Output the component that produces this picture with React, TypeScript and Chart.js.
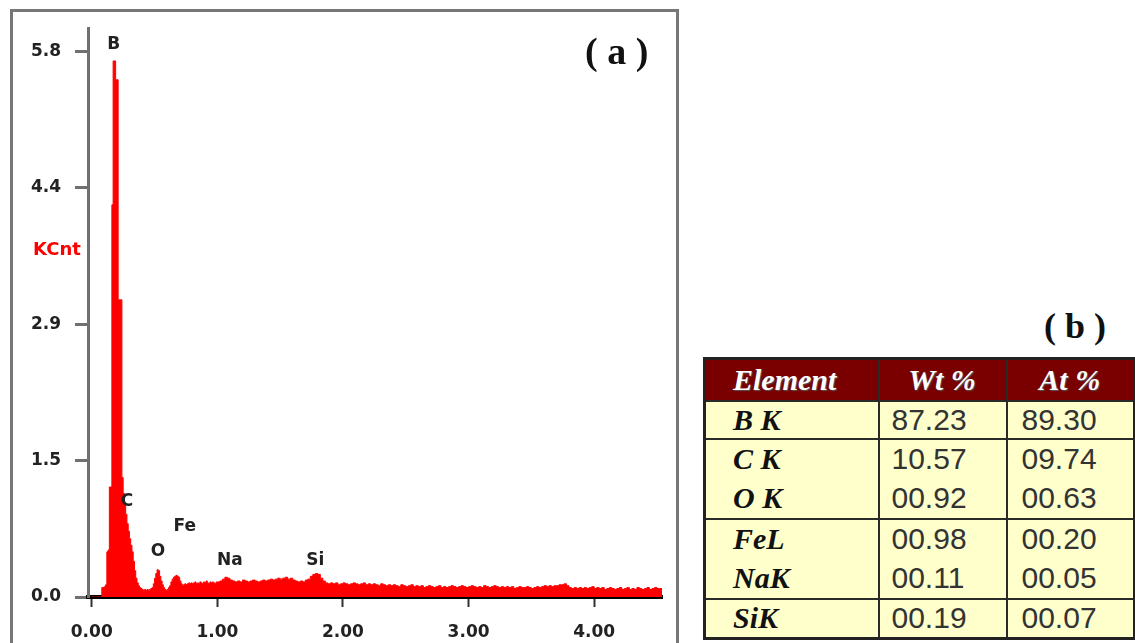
import React, { useEffect, useRef } from 'react';
import { Chart, registerables } from 'chart.js';

Chart.register(...registerables);

// ---------- DATA ----------
// EDS spectrum counts (KCnt). Low-energy part: 0.01 keV channels starting at 0.00 keV
const LOW_START = 0.0;
const LOW_STEP = 0.01;
const lowCounts = [
  0, 0, 0, 0, 0, 0, 0, 0,
  0.1, 0.1, 0.11, 0.13,
  0.48, 0.5, 1.17, 1.17,
  4.17, 5.7, 5.7, 5.5,
  5.5, 3.16, 3.16, 3.16,
  1.27, 1.1, 0.98, 0.88,
  0.78, 0.7, 0.62, 0.55,
  0.48, 0.38, 0.28, 0.2,
  0.15, 0.12, 0.1, 0.09,
  0.08, 0.07, 0.08, 0.07,
  0.08, 0.07, 0.08, 0.09,
  0.1, 0.14, 0.2, 0.25,
  0.29, 0.28, 0.22, 0.17,
  0.13, 0.1, 0.08, 0.07,
  0.08, 0.1, 0.12, 0.16,
  0.19, 0.21, 0.22, 0.23,
  0.22, 0.21, 0.17, 0.14,
  0.12, 0.13, 0.14, 0.13,
  0.14, 0.15, 0.14, 0.15,
  0.14, 0.15, 0.16, 0.14,
  0.15, 0.14, 0.16, 0.15,
  0.14, 0.16, 0.15, 0.17,
  0.15, 0.14, 0.16, 0.15,
  0.16, 0.15, 0.14, 0.16,
];
// High-energy part: 0.02 keV channels starting at 1.00 keV
const HIGH_START = 1.0;
const HIGH_STEP = 0.02;
const highCounts = [
  0.16, 0.17, 0.19, 0.21, 0.2, 0.18,
  0.17, 0.16, 0.17, 0.16, 0.18, 0.17,
  0.16, 0.17, 0.18, 0.17, 0.16, 0.17,
  0.18, 0.17, 0.18, 0.19, 0.18, 0.19,
  0.2, 0.19, 0.2, 0.21, 0.19, 0.2,
  0.18, 0.17, 0.16, 0.17, 0.16, 0.18,
  0.19, 0.22, 0.24, 0.25, 0.24, 0.2, 0.17, 0.15,
  0.14, 0.15, 0.14, 0.15, 0.13, 0.14,
  0.15, 0.14, 0.13, 0.14, 0.15, 0.14,
  0.13, 0.14, 0.15, 0.13, 0.14, 0.13,
  0.14, 0.13, 0.12, 0.14, 0.13, 0.12,
  0.13, 0.12, 0.13, 0.12, 0.11, 0.13,
  0.12, 0.11, 0.12, 0.13, 0.11, 0.12,
  0.11, 0.12, 0.1, 0.11, 0.12, 0.11,
  0.1, 0.11, 0.12, 0.1, 0.11, 0.1,
  0.11, 0.12, 0.11, 0.1, 0.11, 0.12,
  0.11, 0.1, 0.11, 0.12, 0.11, 0.1,
  0.11, 0.1, 0.12, 0.11, 0.1, 0.11,
  0.12, 0.11, 0.1, 0.11, 0.1, 0.11,
  0.1, 0.11, 0.09, 0.1, 0.11, 0.1,
  0.1, 0.11, 0.1, 0.09, 0.1, 0.11,
  0.1, 0.11, 0.12, 0.11, 0.12, 0.11,
  0.12, 0.12, 0.13, 0.13, 0.14, 0.12,
  0.1, 0.09, 0.1, 0.09, 0.1, 0.09,
  0.1, 0.09, 0.1, 0.11, 0.09, 0.1,
  0.09, 0.1, 0.08, 0.09, 0.1, 0.09,
  0.08, 0.09, 0.1, 0.08, 0.09, 0.1,
  0.08, 0.09, 0.08, 0.1, 0.09, 0.08,
  0.09, 0.1, 0.08, 0.09, 0.1, 0.09,
  0.09, 0.09,
];

const xTickValues = [0, 1, 2, 3, 4];
const xTickLabels = ['0.00', '1.00', '2.00', '3.00', '4.00'];
const yTickValues = [0, 1.45, 2.9, 4.35, 5.8];
const yTickLabels = ['0.0', '1.5', '2.9', '4.4', '5.8'];

const peakNames = ['B', 'C', 'O', 'Fe', 'Na', 'Si'];
const peakEnergies = [0.175, 0.28, 0.527, 0.74, 1.1, 1.78];
const peakLabelHeights = [5.87, 1.01, 0.48, 0.745, 0.39, 0.39];

const yAxisUnit = 'KCnt';

const tableHeader = ['Element', 'Wt %', 'At %'];
const tableElements = ['B K', 'C K', 'O K', 'FeL', 'NaK', 'SiK'];
const tableWt = ['87.23', '10.57', '00.92', '00.98', '00.11', '00.19'];
const tableAt = ['89.30', '09.74', '00.63', '00.20', '00.05', '00.07'];
// rows after which a separator line is drawn
const tableSeparatorsAfter = [0, 2, 4];

// ---------- CHART ----------
const peakLabelPlugin = {
  id: 'peakLabels',
  afterDatasetsDraw(chart: any) {
    const { ctx } = chart;
    const xs = chart.scales.x;
    const ys = chart.scales.y;
    ctx.save();
    ctx.font = 'bold 17px "DejaVu Sans"';
    ctx.fillStyle = '#222';
    ctx.textAlign = 'center';
    ctx.textBaseline = 'middle';
    peakNames.forEach((n, i) => {
      ctx.fillText(n, xs.getPixelForValue(peakEnergies[i]), ys.getPixelForValue(peakLabelHeights[i]));
    });
    ctx.fillStyle = '#ff0000';
    ctx.font = 'bold 18px "DejaVu Sans"';
    ctx.fillText(yAxisUnit, 57, 250);
    ctx.restore();
  },
};

function Spectrum() {
  const ref = useRef<HTMLCanvasElement | null>(null);
  useEffect(() => {
    if (!ref.current) return;
    const points = [
      ...lowCounts.map((y, i) => ({ x: LOW_START + i * LOW_STEP, y })),
      ...highCounts.map((y, i) => ({ x: HIGH_START + i * HIGH_STEP, y })),
    ];
    const chart = new Chart(ref.current, {
      type: 'line',
      data: {
        datasets: [
          {
            data: points,
            stepped: true,
            fill: 'origin',
            backgroundColor: '#ff0000',
            borderColor: '#ff0000',
            borderWidth: 1,
            pointRadius: 0,
          },
        ],
      },
      options: {
        animation: false,
        responsive: false,
        devicePixelRatio: 1,
        layout: { padding: { left: 0, top: 28, right: 28, bottom: 0 } },
        plugins: { legend: { display: false }, tooltip: { enabled: false } },
        scales: {
          x: {
            type: 'linear',
            min: -0.03,
            max: 4.54,
            afterBuildTicks: (s: any) => {
              s.ticks = xTickValues.map((v) => ({ value: v }));
            },
            afterFit: (s: any) => {
              s.height = 46;
            },
            ticks: {
              autoSkip: false,
              maxRotation: 0,
              padding: 15,
              color: '#222',
              font: { family: '"DejaVu Sans"', weight: 'bold', size: 17 },
              callback: (_v: any, i: number) => xTickLabels[i],
            },
            grid: {
              drawOnChartArea: false,
              drawTicks: true,
              tickLength: 10,
              tickWidth: 2,
              tickColor: '#333',
            },
            border: { display: true, color: '#000', width: 4 },
          },
          y: {
            type: 'linear',
            min: 0,
            max: 6.05,
            afterBuildTicks: (s: any) => {
              s.ticks = yTickValues.map((v) => ({ value: v }));
            },
            afterFit: (s: any) => {
              s.width = 88;
            },
            ticks: {
              autoSkip: false,
              padding: 14,
              color: '#222',
              font: { family: '"DejaVu Sans"', weight: 'bold', size: 17 },
              callback: (_v: any, i: number) => yTickLabels[i],
            },
            grid: {
              drawOnChartArea: false,
              drawTicks: true,
              tickLength: 13,
              tickWidth: 3,
              tickColor: '#707070',
            },
            border: { display: true, color: '#707070', width: 3 },
          },
        },
      },
      plugins: [peakLabelPlugin],
    } as any);
    return () => chart.destroy();
  }, []);
  return (
    <canvas
      ref={ref}
      width={690}
      height={643}
      style={{ position: 'absolute', left: 0, top: 0, width: 690, height: 643 }}
    />
  );
}

const serif = '"Liberation Serif", "DejaVu Serif", serif';
const sans = '"Liberation Sans", Arial, sans-serif';

function CompositionTable() {
  const border = '2px solid #2a2a2a';
  const rowHeights = [38, 40, 40, 40, 40, 40];
  return (
    <table
      style={{
        position: 'absolute',
        left: 703,
        top: 357,
        width: 430,
        borderCollapse: 'collapse',
        tableLayout: 'fixed',
        border: '3px solid #222',
      }}
    >
      <colgroup>
        <col style={{ width: 174 }} />
        <col style={{ width: 128 }} />
        <col style={{ width: 128 }} />
      </colgroup>
      <thead>
        <tr style={{ height: 42, background: '#7a0000' }}>
          {tableHeader.map((h, i) => (
            <th
              key={h}
              style={{
                borderLeft: i > 0 ? border : undefined,
                borderBottom: border,
                color: '#ffffff',
                fontFamily: serif,
                fontStyle: 'italic',
                fontWeight: 'bold',
                fontSize: 30,
                textAlign: i === 0 ? 'left' : 'center',
                paddingLeft: i === 0 ? 27 : 0,
                paddingTop: 0,
                paddingBottom: 0,
                textShadow: '1px 1px 1px #555',
                lineHeight: '36px',
              }}
            >
              {h}
            </th>
          ))}
        </tr>
      </thead>
      <tbody>
        {tableElements.map((el, r) => {
          const bottom = tableSeparatorsAfter.includes(r) ? border : undefined;
          const cellBase: React.CSSProperties = {
            borderBottom: bottom,
            padding: 0,
            lineHeight: '34px',
            background: '#ffffcc',
          };
          return (
            <tr key={el} style={{ height: rowHeights[r] }}>
              <td
                style={{
                  ...cellBase,
                  paddingLeft: 27,
                  fontFamily: serif,
                  fontStyle: 'italic',
                  fontWeight: 'bold',
                  fontSize: 30,
                  color: '#111',
                }}
              >
                {el}
              </td>
              <td
                style={{
                  ...cellBase,
                  borderLeft: border,
                  paddingLeft: 12,
                  fontFamily: sans,
                  fontSize: 30,
                  color: '#333',
                }}
              >
                {tableWt[r]}
              </td>
              <td
                style={{
                  ...cellBase,
                  borderLeft: border,
                  paddingLeft: 14,
                  fontFamily: sans,
                  fontSize: 30,
                  color: '#333',
                }}
              >
                {tableAt[r]}
              </td>
            </tr>
          );
        })}
      </tbody>
    </table>
  );
}

export default function App() {
  return (
    <div
      style={{
        position: 'fixed',
        left: 0,
        top: 0,
        width: 1135,
        height: 643,
        overflow: 'hidden',
        background: '#ffffff',
      }}
    >
      <div
        style={{
          position: 'absolute',
          left: 10,
          top: 9,
          width: 669,
          height: 660,
          border: '3px solid #777',
          boxSizing: 'border-box',
        }}
      />
      <Spectrum />
      <div
        style={{
          position: 'absolute',
          left: 585,
          top: 26,
          fontFamily: serif,
          fontWeight: 'bold',
          fontSize: 38,
          lineHeight: '50px',
          whiteSpace: 'pre',
          color: '#111',
        }}
      >
        {'( a )'}
      </div>
      <div
        style={{
          position: 'absolute',
          left: 1044,
          top: 302,
          fontFamily: serif,
          fontWeight: 'bold',
          fontSize: 36,
          lineHeight: '48px',
          whiteSpace: 'pre',
          color: '#111',
        }}
      >
        {'( b )'}
      </div>
      <CompositionTable />
    </div>
  );
}
